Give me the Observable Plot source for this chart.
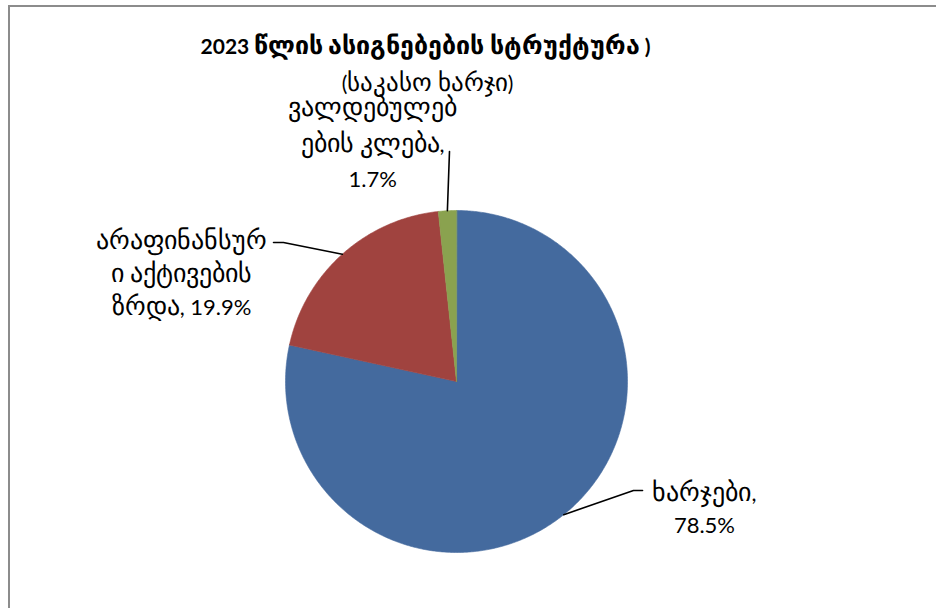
<!DOCTYPE html>
<html>
<head>
<meta charset="utf-8">
<script src="https://cdn.jsdelivr.net/npm/d3@7"></script>
<script src="https://cdn.jsdelivr.net/npm/@observablehq/plot@0.6"></script>
<style>
  @font-face { font-family: "GeoMix"; src: local("DejaVu Sans"), local("DejaVuSans"); font-weight: 400; unicode-range: U+10A0-10FF, U+2D00-2D2F; size-adjust: 117%; }
  @font-face { font-family: "GeoMix"; src: local("DejaVu Sans Bold"), local("DejaVuSans-Bold"); font-weight: 700; unicode-range: U+10A0-10FF, U+2D00-2D2F; size-adjust: 117%; }
  html, body { margin: 0; padding: 0; background: #fff; }
  #wrap { position: relative; width: 936px; height: 608px; overflow: hidden; }
  #border { position: absolute; left: 8px; top: 5px; width: 940px; height: 620px;
            border-top: 2px solid #8c8c8c; border-left: 2px solid #8c8c8c; box-sizing: border-box; pointer-events: none; }
  #chart { position: absolute; left: 0; top: 0; }
</style>
</head>
<body>
<div id="wrap"><div id="chart"></div><div id="border"></div></div>
<script>
// ---- data ----
const categories = ["ხარჯები", "არაფინანსური აქტივების ზრდა", "ვალდებულებების კლება"];
const shares = [78.5, 19.9, 1.7];
const labelTexts = ["ხარჯები,\n78.5%", "არაფინანსურ\nი აქტივების\nზრდა, 19.9%", "ვალდებულებ\nების კლება,\n1.7%"];
const colors = ["#446a9e", "#a0433f", "#8aa24f"];
const title = "2023 წლის ასიგნებების სტრუქტურა )";
const subtitle = "(საკასო ხარჯი)";

// ---- layout (radius units, pie centre = 0,0) ----
const labelPos = [[1.45, -0.731], [-1.608, 0.645], [-0.49, 1.41]];
const labelLeader = [[[1.035, -0.637], [1.088, -0.637]], [[-1.012, 0.813], [-1.07, 0.813]], [[-0.041, 1.345]]];
const lineHeights = [1.45, 1.5, 1.62];

const total = d3.sum(shares);
let acc = 0;
const slices = shares.map((v, i) => {
  const a0 = acc / total * 2 * Math.PI;
  acc += v;
  const a1 = acc / total * 2 * Math.PI;
  return {i, a0, a1, mid: (a0 + a1) / 2};
});
const pt = (a, r = 1) => ({x: r * Math.sin(a), y: r * Math.cos(a)});

const marks = [];
slices.forEach(s => {
  const n = Math.max(4, Math.ceil((s.a1 - s.a0) / (Math.PI / 360)));
  const pts = [{x: 0, y: 0}];
  for (let k = 0; k <= n; k++) pts.push(pt(s.a0 + (s.a1 - s.a0) * k / n));
  marks.push(Plot.line(pts, {x: "x", y: "y", curve: "linear-closed", fill: colors[s.i], stroke: colors[s.i], strokeWidth: 0.6}));
});
slices.forEach(s => {
  const pts = [pt(s.mid), ...labelLeader[s.i].map(([x, y]) => ({x, y}))];
  marks.push(Plot.line(pts, {x: "x", y: "y", stroke: "#000", strokeWidth: 1.6}));
});
slices.forEach(s => {
  marks.push(Plot.text([labelTexts[s.i]], {
    x: () => labelPos[s.i][0], y: () => labelPos[s.i][1], text: d => d,
    textAnchor: "middle", lineAnchor: "middle", lineHeight: lineHeights[s.i],
    fontSize: 22, fill: "#000"
  }));
});
marks.push(Plot.text([title], {frameAnchor: "top-left", dx: 425, dy: 47, text: d => d, textAnchor: "middle", lineAnchor: "middle", fontSize: 21, fontWeight: "bold", fill: "#000"}));
marks.push(Plot.text([subtitle], {frameAnchor: "top-left", dx: 427, dy: 84, text: d => d, textAnchor: "middle", lineAnchor: "middle", fontSize: 21, fill: "#000"}));

const chart = Plot.plot({
  width: 936, height: 608,
  margin: 0,
  x: {type: "linear", domain: [-1, 1], range: [285, 627], axis: null},
  y: {type: "linear", domain: [-1, 1], range: [552, 210], axis: null},
  style: {fontFamily: "GeoMix, Lato, 'DejaVu Sans', sans-serif", background: "#fff"},
  marks
});
document.getElementById("chart").appendChild(chart);
</script>
</body>
</html>
